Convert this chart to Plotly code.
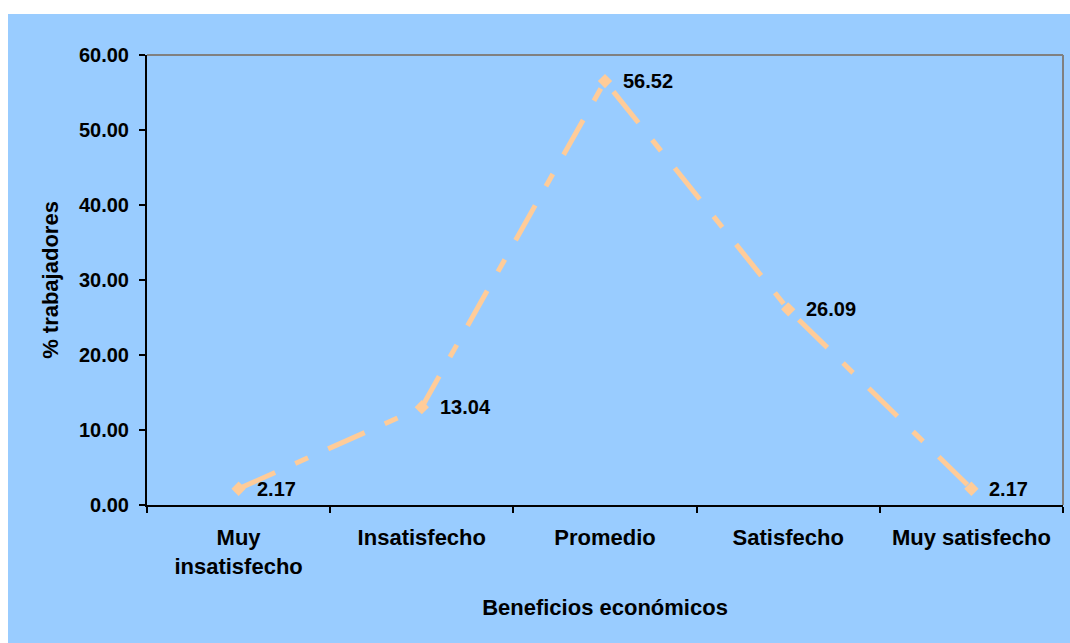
import plotly.graph_objects as go

# Satisfaction levels and share of workers (%)
categorias = ["Muy<br>insatisfecho", "Insatisfecho", "Promedio", "Satisfecho", "Muy satisfecho"]
porcentajes = [2.17, 13.04, 56.52, 26.09, 2.17]
y_ticks = [0, 10, 20, 30, 40, 50, 60]

W, H = 1070, 643
L, R, T, B = 147, 7, 55, 138
plot_w = W - L - R
plot_h = H - T - B

FONT = "Liberation Sans, Arial, sans-serif"
BLUE = "#99CCFF"
PEACH = "#FFCC99"

fig = go.Figure()
fig.add_trace(go.Scatter(
    x=categorias,
    y=porcentajes,
    mode="lines+markers",
    line=dict(color=PEACH, width=5, dash="40px,22px,14px,22px"),
    marker=dict(symbol="diamond", size=11, color=PEACH),
    cliponaxis=False,
    showlegend=False,
))

# Value labels to the right of each point
value_labels = [
    dict(x=c, y=v, text=f"{v:.2f}", showarrow=False,
         xanchor="left", yanchor="middle", xshift=16,
         font=dict(family=FONT, size=20, color="black", weight="bold"))
    for c, v in zip(categorias, porcentajes)
]

# Blue chart background panel, inset from the top and left edges
bg_x0 = (8 - L) / plot_w
bg_x1 = (W - L) / plot_w
bg_y1 = (H - B - 14) / plot_h
bg_y0 = (H - B - H) / plot_h

fig.update_layout(
    width=W, height=H,
    margin=dict(l=L, r=R, t=T, b=B, autoexpand=False),
    paper_bgcolor="white",
    plot_bgcolor=BLUE,
    font=dict(family=FONT, color="black"),
    annotations=value_labels,
    shapes=[
        dict(type="rect", xref="paper", yref="paper", layer="below",
             x0=bg_x0, x1=bg_x1, y0=bg_y0, y1=bg_y1,
             fillcolor=BLUE, line=dict(width=0)),
        # gray frame on the top and right of the plot area
        dict(type="line", xref="paper", yref="paper", x0=0, x1=1, y0=1, y1=1,
             line=dict(color="#808080", width=2)),
        dict(type="line", xref="paper", yref="paper", x0=1, x1=1, y0=0, y1=1,
             line=dict(color="#808080", width=2)),
    ],
    xaxis=dict(
        type="category",
        range=[-0.5, 4.5],
        tickson="boundaries",
        ticks="outside", ticklen=6, tickwidth=2, tickcolor="black",
        showline=True, linecolor="black", linewidth=2,
        showgrid=False, zeroline=False,
        ticklabelstandoff=12,
        tickfont=dict(family=FONT, size=22, color="black", weight="bold"),
        title=dict(text="Beneficios económicos", standoff=22,
                   font=dict(family=FONT, size=22, color="black", weight="bold")),
    ),
    yaxis=dict(
        range=[0, 60],
        tickvals=y_ticks,
        tickformat=".2f",
        ticks="outside", ticklen=6, tickwidth=2, tickcolor="black",
        showline=True, linecolor="black", linewidth=2,
        showgrid=False, zeroline=False,
        ticklabelstandoff=6,
        tickfont=dict(family=FONT, size=20, color="black", weight="bold"),
        title=dict(text="% trabajadores", standoff=14,
                   font=dict(family=FONT, size=22, color="black", weight="bold")),
    ),
)

fig.write_html("out.html")
